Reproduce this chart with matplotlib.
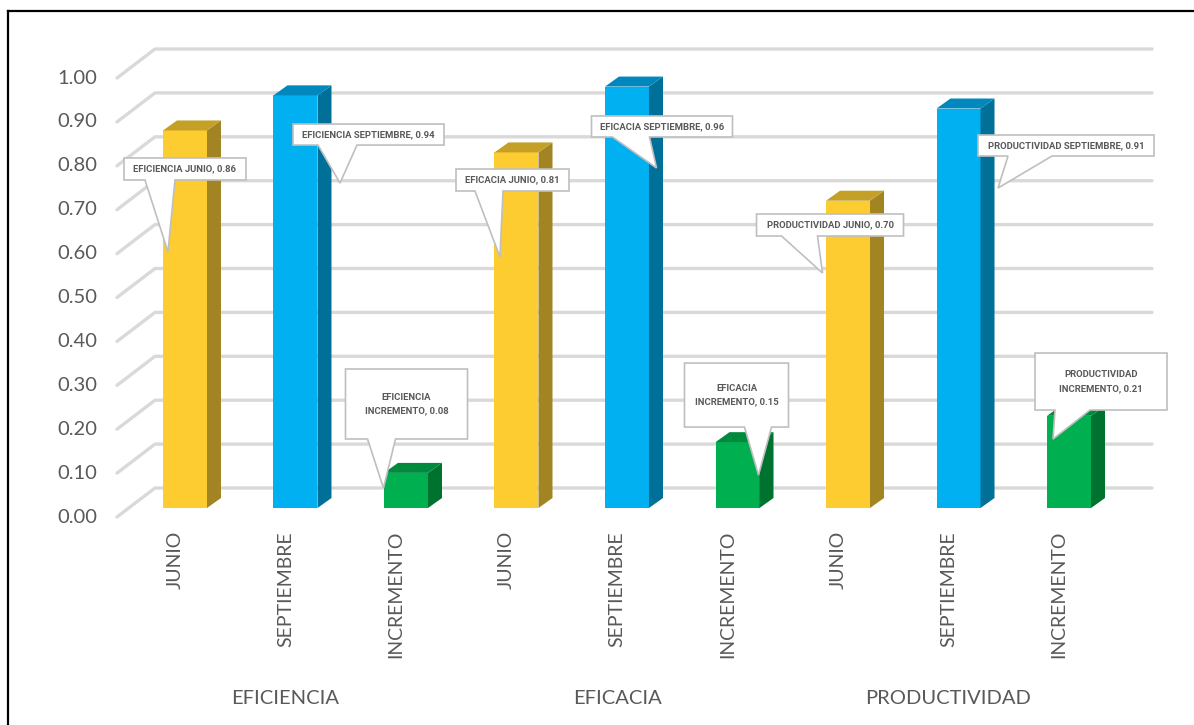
import matplotlib
matplotlib.use("Agg")
import matplotlib.pyplot as plt
from matplotlib.patches import Polygon
from matplotlib.lines import Line2D

# ---- data -------------------------------------------------------------
groups = ["EFICIENCIA", "EFICACIA", "PRODUCTIVIDAD"]
periods = ["JUNIO", "SEPTIEMBRE", "INCREMENTO"]
junio = [0.86, 0.81, 0.70]
septiembre = [0.94, 0.96, 0.91]
incremento = [0.08, 0.15, 0.21]
y_ticks = [0.0, 0.1, 0.2, 0.3, 0.4, 0.5, 0.6, 0.7, 0.8, 0.9, 1.0]
y_tick_labels = ["0.00", "0.10", "0.20", "0.30", "0.40", "0.50",
                 "0.60", "0.70", "0.80", "0.90", "1.00"]

# ---- styling ----------------------------------------------------------
plt.rcParams["font.family"] = ["Lato", "DejaVu Sans"]
LABEL_FONT = ["Roboto", "DejaVu Sans"]
TXT = "#595959"
GRID = "#d9d9d9"
faces = {  # front, side, top
    "JUNIO": ("#fdcc30", "#a38422", "#c4a026"),
    "SEPTIEMBRE": ("#00b0f0", "#007099", "#0088be"),
    "INCREMENTO": ("#00b050", "#007230", "#008a3e"),
}

W, H = 1194, 725
fig = plt.figure(figsize=(W / 100, H / 100), dpi=100)
ax = fig.add_axes([0, 0, 1, 1])
ax.set_xlim(-1.674, 9.131)
ax.set_ylim(-0.4943, 1.1572)
ax.axis("off")

# pixel -> data scale factors
PX_X = (9.131 + 1.674) / W
PX_Y = (1.1572 + 0.4943) / H

# ---- 3D-looking gridlines (back wall + floor diagonal) ----------------
x_front, x_back, x_end = -68 * PX_X, -30 * PX_X, 967 * PX_X
for v, lab in zip(y_ticks, y_tick_labels):
    yf = v - 9 * PX_Y
    yb = v + 20 * PX_Y
    ax.plot([x_front, x_back, x_end], [yf, yb, yb], color=GRID, lw=2.4,
            solid_capstyle="round", zorder=1)
    ax.text(x_front - 20 * PX_X, yf, lab, ha="right", va="center",
            fontsize=14.5, color=TXT)

# ---- bars ---------------------------------------------------------------
values = []
for g in range(len(groups)):
    values += [(periods[0], junio[g]), (periods[1], septiembre[g]),
               (periods[2], incremento[g])]

half = 22 * PX_X
ddx, ddy = 14 * PX_X, 10 * PX_Y
for i, (per, v) in enumerate(values):
    fc, sc, tc = faces[per]
    x1, x2 = i - half, i + half
    ax.add_patch(Polygon([(x1, 0), (x2, 0), (x2, v), (x1, v)], closed=True,
                         fc=fc, ec="none", zorder=3))
    ax.add_patch(Polygon([(x2, 0), (x2 + ddx, ddy), (x2 + ddx, v + ddy), (x2, v)],
                         closed=True, fc=sc, ec="none", zorder=3))
    ax.add_patch(Polygon([(x1, v), (x1 + ddx, v + ddy), (x2 + ddx, v + ddy), (x2, v)],
                         closed=True, fc=tc, ec="none", zorder=3))
    ax.text(i - 10 * PX_X, -23 * PX_Y, per, rotation=90, ha="center", va="top",
            fontsize=14, color=TXT)

for g, name in enumerate(groups):
    ax.text(3 * g + 1 - 10 * PX_X, -190 * PX_Y, name, ha="center", va="center",
            fontsize=14.5, color=TXT)

# ---- callout data labels ----------------------------------------------
# offsets in pixels from the bar's front-top centre (y grows downward):
# box (left, right, top, bottom), pointer base (left, right), pointer tip
callouts = [
    ((-61, 61, 27.5, 49.5), (-40, -10), (-17, 121.5)),
    ((-2.5, 148.5, 28.7, 49.7), (22.5, 61.5), (44.5, 87.7)),
    ((-60.5, 61.5, -103.9, -33.9), (-38.5, -10.5), (-22.5, 15.1)),
    ((-60.5, 52.5, 16.6, 38.6), (-41.5, -13.5), (-16.5, 104.6)),
    ((-35.5, 105.5, 29.4, 50.4), (-14.5, 22.5), (29.5, 81.4)),
    ((-53, 51, -79.1, -15.1), (7, 34), (21, 32.9)),
    ((-91.5, 55.5, 13.3, 35.3), (-66.5, -30.5), (-25.5, 72.3)),
    ((19.5, 195.5, 26.5, 47.5), (49.5, 93.5), (39.5, 79.5)),
    ((-34, 98, -62.8, -5.8), (-14, 21), (-16, 23.2)),
]

for i, ((per, v), (box, base, tip)) in enumerate(zip(values, callouts)):
    grp = groups[i // 3]
    if per == "INCREMENTO":
        label = f"{grp}\n{per}, {v:.2f}"
    else:
        label = f"{grp} {per}, {v:.2f}"

    def P(dx, dy):
        return (i + dx * PX_X, v - dy * PX_Y)

    l, r, t, b = box
    pts = [P(l, t), P(r, t), P(r, b), P(base[1], b), P(*tip), P(base[0], b), P(l, b)]
    ax.add_patch(Polygon(pts, closed=True, fc="white", ec="#bfbfbf", lw=1.2,
                         joinstyle="miter", zorder=5))
    cx, cy = P((l + r) / 2, (t + b) / 2)
    ax.text(cx, cy, label, ha="center", va="center", fontsize=6.8,
            fontweight="bold", family=LABEL_FONT, color=TXT,
            linespacing=1.7, zorder=6)

# ---- chart frame ------------------------------------------------------
fig.add_artist(Line2D([8 / W, 8 / W], [0, 1 - 11 / H], color="black", lw=1.6,
                      transform=fig.transFigure))
fig.add_artist(Line2D([8 / W, 1], [1 - 11 / H, 1 - 11 / H], color="black", lw=1.6,
                      transform=fig.transFigure))

fig.savefig("out.png", dpi=100)
